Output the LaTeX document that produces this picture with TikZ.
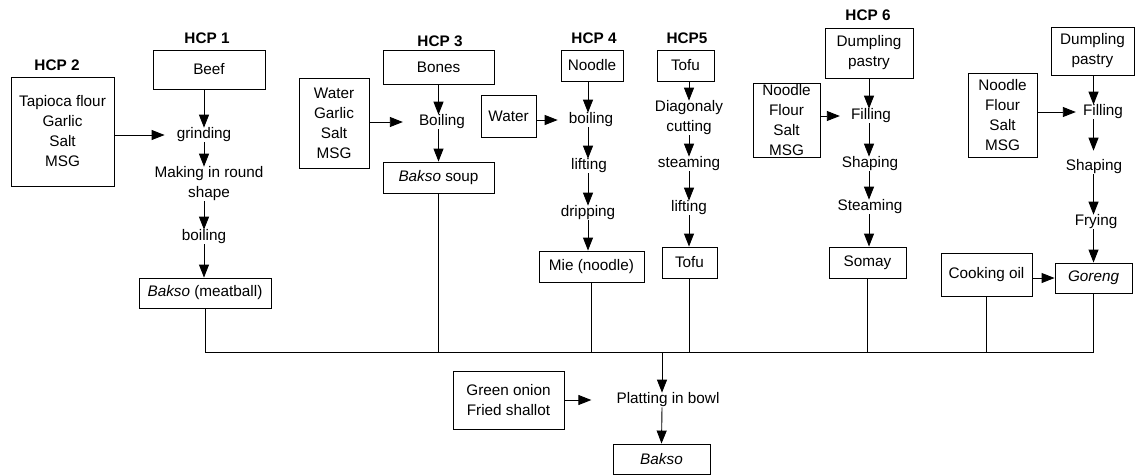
\documentclass[tikz,border=0pt]{standalone}
\usepackage{fontspec}
\setmainfont{Liberation Sans}
\usetikzlibrary{arrows.meta}
\begin{document}
\begin{tikzpicture}[x=1pt,y=-1pt,
  every node/.style={font=\fontsize{15.3pt}{20pt}\selectfont},
  box/.style={draw, line width=0.9pt, inner sep=0pt, align=center},
  txt/.style={inner sep=0pt, align=center},
  hcp/.style={inner sep=0pt, font=\fontsize{15.3pt}{20pt}\selectfont\bfseries},
  arr/.style={-{Triangle[length=13pt,width=10pt]}, line width=0.9pt},
  ln/.style={line width=0.9pt}]
\useasboundingbox (0,0) rectangle (1137,475);

% ---- HCP 1 / HCP 2 ----
\node[hcp] (h1) at (207,38) {HCP 1};
\node[hcp] (h2) at (57,65) {HCP 2};
\node[box, minimum width=112pt, minimum height=39pt] (beef) at (209,69.5) {Beef};
\node[box, minimum width=103pt, minimum height=109pt] (ing2) at (62.5,131.5) {Tapioca flour\\Garlic\\Salt\\MSG};
\node[txt] (grind) at (204,135) {grinding};
\node[txt] (making) at (209,184) {Making in round\\shape};
\node[txt] (boil1) at (204,237) {boiling};
\node[box, minimum width=132pt, minimum height=30pt] (meat) at (205,293) {\textit{Bakso} (meatball)};
\draw[arr] (beef.south -| grind) -- (grind.north);
\draw[arr] (grind.south) -- (grind.south |- making.north);
\draw[arr] (grind.south |- making.south) -- (boil1.north);
\draw[arr] (boil1.south) -- (boil1.south |- meat.north);
\draw[arr, shorten >=12pt] (ing2.east |- grind.west) -- (grind.west);

% ---- HCP 3 ----
\node[hcp] (h3) at (440,41) {HCP 3};
\node[box, minimum width=111pt, minimum height=34pt] (bones) at (438.5,67) {Bones};
\node[box, minimum width=70pt, minimum height=90pt] (ing3) at (334,123) {Water\\Garlic\\Salt\\MSG};
\node[txt] (boil3) at (442,122) {Boiling};
\node[box, minimum width=111pt, minimum height=31pt] (soup) at (438.5,177.5) {\textit{Bakso} soup};
\draw[arr] (bones.south) -- (bones.south |- boil3.north);
\draw[arr] (bones.south |- boil3.south) -- (soup.north);
\draw[arr, shorten >=16pt] (ing3.east |- boil3.west) -- (boil3.west);

% ---- HCP 4 ----
\node[hcp] (h4) at (594,38) {HCP 4};
\node[box, minimum width=62pt, minimum height=31pt] (noodle) at (592,65.5) {Noodle};
\node[box, minimum width=55pt, minimum height=42pt] (water4) at (508.5,116) {Water};
\node[txt] (boil4) at (591,120) {boiling};
\node[txt] (lift4) at (589,166) {lifting};
\node[txt] (drip4) at (588,213) {dripping};
\node[box, minimum width=105pt, minimum height=31pt] (mie) at (591.5,266.5) {Mie (noodle)};
\draw[arr] (drip4 |- noodle.south) -- (drip4 |- boil4.north);
\draw[arr] (drip4 |- boil4.south) -- (drip4 |- lift4.north);
\draw[arr] (drip4 |- lift4.south) -- (drip4.north);
\draw[arr] (drip4.south) -- (drip4 |- mie.north);
\draw[arr, shorten >=11pt] (water4.east |- boil4.west) -- (boil4.west);

% ---- HCP 5 ----
\node[hcp] (h5) at (687,38) {HCP5};
\node[box, minimum width=57pt, minimum height=31pt] (tofu1) at (685.5,65.5) {Tofu};
\node[txt] (diag) at (689,118) {Diagonaly\\cutting};
\node[txt] (steam5) at (689,164) {steaming};
\node[txt] (lift5) at (689,208) {lifting};
\node[box, minimum width=55pt, minimum height=31pt] (tofu2) at (689.5,262.5) {Tofu};
\draw[arr] (diag |- tofu1.south) -- (diag.north);
\draw[arr] (diag.south) -- (diag |- steam5.north);
\draw[arr] (steam5.south) -- (lift5.north);
\draw[arr] (lift5.south) -- (lift5 |- tofu2.north);

% ---- HCP 6 ----
\node[hcp] (h6) at (868,15) {HCP 6};
\node[box, minimum width=88pt, minimum height=50pt] (dump1) at (869,53) {Dumpling\\pastry};
\node[box, minimum width=67pt, minimum height=74pt] (ing6) at (786.5,120) {Noodle\\Flour\\Salt\\MSG};
\node[txt] (fill6) at (871,116) {Filling};
\node[txt] (shape6) at (870,164) {Shaping};
\node[txt] (steam6) at (870,207) {Steaming};
\node[box, minimum width=77pt, minimum height=31pt] (somay) at (867.5,262.5) {Somay};
\draw[arr] (dump1.south) -- (dump1.south |- fill6.north);
\draw[arr] (dump1.south |- fill6.south) -- (dump1.south |- shape6.north);
\draw[arr] (dump1.south |- shape6.south) -- (dump1.south |- steam6.north);
\draw[arr] (dump1.south |- steam6.south) -- (dump1.south |- somay.north);
\draw[arr, shorten >=11pt] (ing6.east |- fill6.west) -- (fill6.west);

% ---- Goreng ----
\node[box, minimum width=83pt, minimum height=48pt] (dump2) at (1092.5,51) {Dumpling\\pastry};
\node[box, minimum width=69pt, minimum height=84pt] (ing7) at (1002.5,115) {Noodle\\Flour\\Salt\\MSG};
\node[txt] (fill7) at (1103,112) {Filling};
\node[txt] (shape7) at (1094,167) {Shaping};
\node[txt] (fry) at (1096,222) {Frying};
\node[box, minimum width=77pt, minimum height=30pt] (goreng) at (1093.5,278) {\textit{Goreng}};
\node[box, minimum width=91pt, minimum height=43pt] (oil) at (986.5,274.5) {Cooking oil};
\draw[arr] (goreng |- dump2.south) -- (goreng |- fill7.north);
\draw[arr, shorten >=9pt] (goreng |- fill7.south) -- (goreng |- shape7.north);
\draw[arr] (goreng |- shape7.south) -- (goreng |- fry.north);
\draw[arr] (goreng |- fry.south) -- (goreng.north);
\draw[arr, shorten >=7pt] (ing7.east |- fill7.west) -- (fill7.west);
\draw[arr] (oil.east |- goreng.west) -- (goreng.west);

% ---- collecting line ----
\coordinate (busL) at (203,352);
\coordinate (busC) at (662,352);
\draw[ln] (meat.south) -- (meat.south |- busL) -- (goreng.south |- busL) -- (goreng.south);
\draw[ln] (soup.south) -- (soup.south |- busL);
\draw[ln] (mie.south) -- (mie.south |- busL);
\draw[ln] (tofu2.south) -- (tofu2.south |- busL);
\draw[ln] (somay.south) -- (somay.south |- busL);
\draw[ln] (oil.south) -- (oil.south |- busL);

% ---- final ----
\node[txt] (plat) at (668,400) {Platting in bowl};
\node[box, minimum width=111pt, minimum height=58pt] (garn) at (508.5,400) {Green onion\\Fried shallot};
\node[box, minimum width=97pt, minimum height=30pt] (bakso) at (661.5,459) {\textit{Bakso}};
\draw[arr] (busC) -- (busC |- plat.north);
\draw[arr] (busC |- plat.south) -- (bakso.north);
\draw[arr, shorten >=25pt] (garn.east |- plat.west) -- (plat.west);
\end{tikzpicture}
\end{document}
